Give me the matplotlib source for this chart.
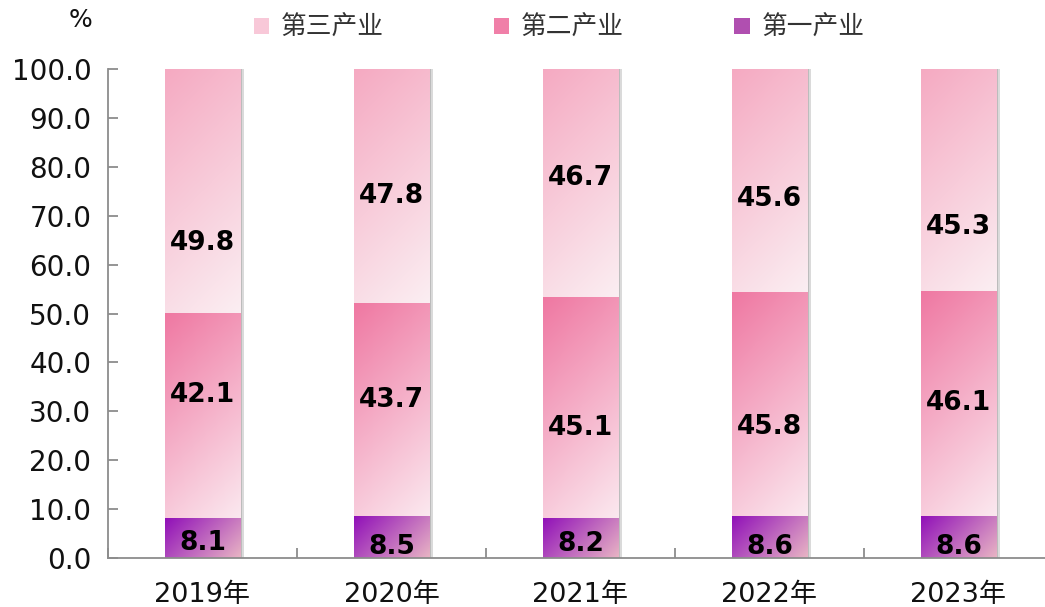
import numpy as np
import matplotlib
matplotlib.use("Agg")
import matplotlib.pyplot as plt
from matplotlib.colors import LinearSegmentedColormap
from matplotlib.patches import Patch, Rectangle

plt.rcParams['font.family'] = ['DejaVu Sans', 'Noto Sans CJK SC']

years = ["2019年", "2020年", "2021年", "2022年", "2023年"]
primary = [8.1, 8.5, 8.2, 8.6, 8.6]
secondary = [42.1, 43.7, 45.1, 45.8, 46.1]
tertiary = [49.8, 47.8, 46.7, 45.6, 45.3]
series_names = ["第一产业", "第二产业", "第三产业"]
yticks = [0, 10, 20, 30, 40, 50, 60, 70, 80, 90, 100]

# label vertical positions
label_y = {
    0: [3.1, 2.2, 2.9, 2.2, 2.2],
    1: [33.3, 32.3, 26.6, 26.8, 31.7],
    2: [64.4, 74.0, 77.7, 73.4, 67.7],
}

grad_colors = [
    ("#9010b8", "#e8b4c4"),   # primary
    ("#ef78a2", "#fbe8ef"),   # secondary
    ("#f5aac2", "#fbeef2"),   # tertiary
]
legend_colors = ["#b04fb0", "#f07fa8", "#f8c8d8"]

W, H = 1045, 607
fig = plt.figure(figsize=(W / 100, H / 100), dpi=100)
ax_left, ax_bottom, ax_top = 108, 558, 69
ax_w = 945
ax_h = ax_bottom - ax_top
ax = fig.add_axes([ax_left / W, (H - ax_bottom) / H, ax_w / W, ax_h / H])

x = np.arange(len(years))
width = 0.40
ax.set_xlim(-0.5, len(years) - 0.5)
ax.set_ylim(0, 100)

px_per_x = ax_w / len(years)
px_per_y = ax_h / 100.0
n = 64
gx, gy = np.meshgrid(np.linspace(0, 1, n), np.linspace(0, 1, n))

series = [primary, secondary, tertiary]
bottoms = np.zeros(len(years))
for si, vals in enumerate(series):
    cmap = LinearSegmentedColormap.from_list(f"g{si}", list(grad_colors[si]))
    vals = np.array(vals)
    for i in range(len(years)):
        b = bottoms[i]
        t = b + vals[i]
        wpx = width * px_per_x
        hpx = vals[i] * px_per_y
        field = (gx * wpx + gy * hpx) / (wpx + hpx)
        # shadow
        ax.add_patch(Rectangle((x[i] - width / 2 + 0.02, b), width, vals[i],
                               facecolor="#bdbdbd", edgecolor="none", alpha=0.55, zorder=1))
        ax.add_patch(Rectangle((x[i] - width / 2 + 0.01, b), width, vals[i],
                               facecolor="#a8a8a8", edgecolor="none", alpha=0.6, zorder=1))
        ax.imshow(field, cmap=cmap, extent=(x[i] - width / 2, x[i] + width / 2, b, t),
                  origin="upper", aspect="auto", interpolation="bilinear", zorder=2)
        ax.text(x[i], label_y[si][i], f"{vals[i]:.1f}", ha="center", va="center",
                fontsize=19, fontweight="bold", color="black", zorder=4)
    bottoms = bottoms + vals

ax.set_aspect("auto")
ax.set_xlim(-0.5, len(years) - 0.5)
ax.set_ylim(0, 100)

for s in ["top", "right"]:
    ax.spines[s].set_visible(False)
for s in ["left", "bottom"]:
    ax.spines[s].set_color("#8c8c8c")
    ax.spines[s].set_linewidth(1.3)

ax.set_yticks(yticks)
ax.set_yticklabels([f"{v:.1f}" for v in yticks], fontsize=20, color="#111111")
ax.tick_params(axis="y", direction="in", length=7, width=1.3, color="#8c8c8c", pad=12)

ax.set_xticks(x)
ax.set_xticklabels(years, fontsize=19.5, color="#111111")
ax.tick_params(axis="x", length=0, pad=17)
ax.set_xticks(np.arange(-0.5, len(years) + 0.5, 1.0), minor=True)
ax.tick_params(axis="x", which="minor", direction="in", length=7, width=1.3, color="#8c8c8c")

fig.text(80 / W, 1 - 20 / H, "%", fontsize=18, ha="center", va="center", color="#111111")

handles = [Patch(facecolor=legend_colors[k], edgecolor="none") for k in (2, 1, 0)]
labels = [series_names[k] for k in (2, 1, 0)]
fig.legend(handles, labels, loc="center", bbox_to_anchor=(559 / W, 1 - 28 / H), ncol=3,
           frameon=False, handlelength=0.6, handleheight=0.6,
           handletextpad=0.45, columnspacing=4.3,
           prop={"family": ["Noto Sans CJK SC", "DejaVu Sans"], "size": 18.5},
           labelcolor="#333333")

fig.savefig("out.png", dpi=100)
